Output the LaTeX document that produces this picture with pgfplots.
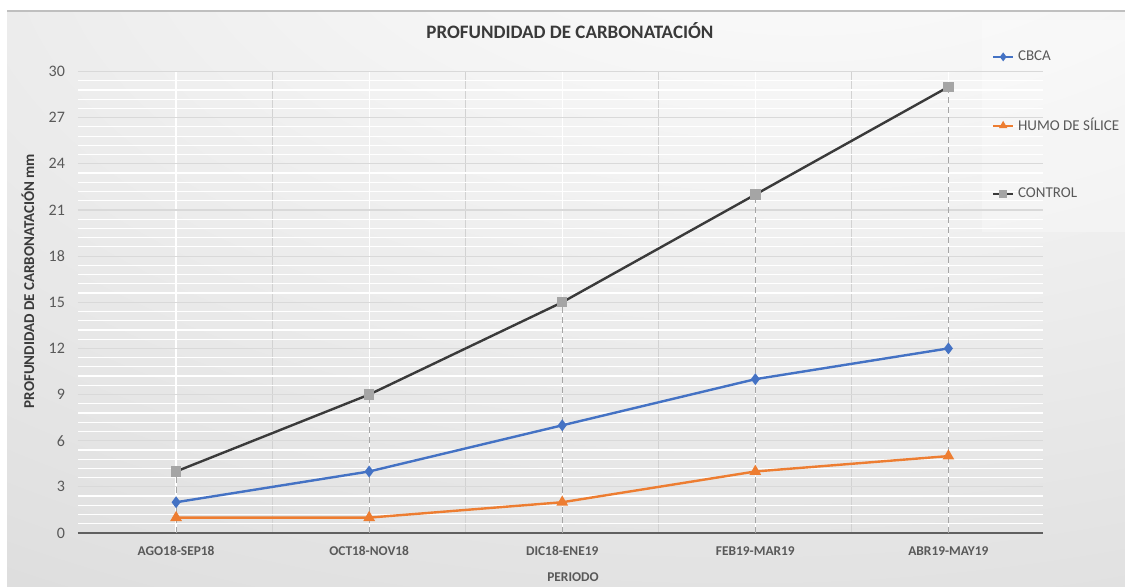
\documentclass[border=0pt]{standalone}
\usepackage{pgfplots}
\pgfplotsset{compat=1.18}
\usepackage{fontspec}
\setmainfont{Carlito}
\definecolor{cbca}{HTML}{4472C4}
\definecolor{humo}{HTML}{ED7D31}
\definecolor{ctrl}{HTML}{3A3A3A}
\definecolor{ctrlm}{HTML}{A5A5A5}
\definecolor{txt}{HTML}{595959}
\pgfdeclareradialshading{bgshade}{\pgfpoint{12bp}{42bp}}{rgb(0bp)=(1,1,1); rgb(15bp)=(0.97,0.97,0.97); rgb(55bp)=(0.88,0.88,0.88); rgb(95bp)=(0.77,0.77,0.77); rgb(140bp)=(0.74,0.74,0.74)}
\begin{document}
\begin{tikzpicture}[x=1pt,y=1pt]
\path[use as bounding box] (0,0) rectangle (562.5,293);
\fill[white] (0,0) rectangle (562.5,293);
\shade[shading=bgshade] (3.5,0) rectangle (562.5,287.5);
\draw[gray!50, line width=0.6pt] (3.5,287.5) -- (562.5,287.5);
\fill[white, opacity=0.3] (491,177) rectangle (562.5,283);
\begin{axis}[
  at={(39pt,26.5pt)}, anchor=south west, scale only axis,
  width=482.5pt, height=230.75pt,
  xmin=-0.508, xmax=4.49, ymin=0, ymax=30,
  clip=false,
  xtick={0,1,2,3,4},
  xticklabels={AGO18-SEP18,OCT18-NOV18,DIC18-ENE19,FEB19-MAR19,ABR19-MAY19},
  minor xtick={0.5,1.5,2.5,3.5},
  ytick={0,3,...,30},
  minor y tick num=4,
  xmajorgrids, xminorgrids, ymajorgrids, yminorgrids,
  major x grid style={white, line width=0.6pt},
  minor x grid style={gray!35, line width=0.5pt},
  major y grid style={gray!30, line width=0.6pt},
  minor y grid style={white, line width=0.6pt},
  axis x line*=bottom, axis y line*=left,
  y axis line style={draw=none},
  x axis line style={color=gray!75!black, line width=1.2pt, -},
  major tick length=0pt, minor tick length=0pt,
  tick style={draw=none},
  /pgf/number format/assume math mode=true,
  ticklabel style={text=txt},
  xticklabel style={font=\bfseries\fontsize{6.7}{7}\selectfont, yshift=-3.3pt},
  yticklabel style={font=\fontsize{8}{9}\selectfont, xshift=-3pt},
  legend style={at={(axis description cs:0.947,1.055)}, anchor=north west,
    draw=none, fill=none, font=\fontsize{7.5}{9}\selectfont, text=txt,
    row sep=23.3pt, inner sep=0pt},
  legend cell align=left,
  legend image code/.code={\draw[mark repeat=2,mark phase=2,line width=0.9pt,#1,mark size=1.5pt] plot coordinates {(0pt,0pt) (5pt,0pt) (10pt,0pt)};},
]
\addplot[ycomb, densely dashed, gray!70, line width=0.5pt, forget plot] coordinates {(0,4)(1,9)(2,15)(3,22)(4,29)};
\addplot[cbca, line width=1.2pt, mark=diamond*, mark size=2pt, mark options={fill=cbca, solid}] coordinates {(0,2)(1,4)(2,7)(3,10)(4,12)};
\addlegendentry{CBCA}
\addplot[humo, line width=1.2pt, mark=triangle*, mark size=2.2pt, mark options={fill=humo, solid}] coordinates {(0,1)(1,1)(2,2)(3,4)(4,5)};
\addlegendentry{HUMO DE SÍLICE}
\addplot[ctrl, line width=1.2pt, mark=square*, mark size=2pt, mark options={draw=ctrlm, fill=ctrlm, solid}] coordinates {(0,4)(1,9)(2,15)(3,22)(4,29)};
\addlegendentry{CONTROL}
\end{axis}
\node[font=\bfseries\fontsize{9.5}{11}\selectfont, text=ctrl] at (285,277.5) {PROFUNDIDAD DE CARBONATACIÓN};
\node[rotate=90, font=\bfseries\fontsize{7.5}{9}\selectfont, text=ctrl] at (14,152.5) {PROFUNDIDAD DE CARBONATACIÓN mm};
\node[font=\bfseries\fontsize{6.7}{8}\selectfont, text=txt] at (286.5,4.3) {PERIODO};
\end{tikzpicture}
\end{document}
